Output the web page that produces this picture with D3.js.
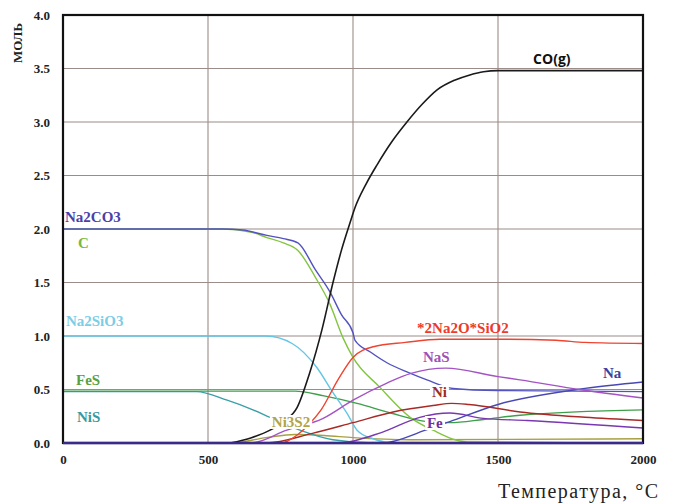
<!DOCTYPE html>
<html><head><meta charset="utf-8">
<script src="https://cdn.jsdelivr.net/npm/d3@7/dist/d3.min.js"></script>
<style>body{margin:0;background:#fff}svg{display:block}</style>
</head><body><svg id="c" width="676" height="504"></svg>
<script>
// ---- data (temperature °C, amount mol) ----
const xTicks = [0, 500, 1000, 1500, 2000];
const yTicks = [0, 0.5, 1.0, 1.5, 2.0, 2.5, 3.0, 3.5, 4.0];
const coG = [[576,0],[650,0.05],[714,0.12],[760,0.2],[807,0.33],[850,0.65],[893,1.06],[931,1.5],[960,1.8],[990,2.06],[1007,2.2],[1045,2.42],[1083,2.6],[1135,2.82],[1186,3.0],[1240,3.17],[1290,3.3],[1350,3.39],[1403,3.44],[1450,3.47],[1500,3.48],[2000,3.48]];
const na2co3 = [[0,2.0],[550,2.0],[620,1.99],[703,1.94],[760,1.91],[810,1.87],[870,1.62],[921,1.41],[960,1.2],[1000,1.03],[1007,0.96],[1060,0.85],[1117,0.75],[1190,0.66],[1255,0.59],[1345,0.51],[1500,0.49],[2000,0.48]];
const cSolid = [[0,2.0],[550,2.0],[650,1.97],[703,1.92],[760,1.87],[810,1.80],[870,1.55],[920,1.30],[966,0.98],[1000,0.80],[1093,0.52],[1197,0.24],[1276,0.12],[1393,0.01],[2000,0]];
const na2sio3 = [[0,1.0],[700,1.0],[790,0.93],[874,0.71],[931,0.47],[979,0.28],[1014,0.12],[1069,0.04],[1150,0],[2000,0]];
const feS = [[0,0.485],[800,0.485],[900,0.44],[1014,0.37],[1130,0.28],[1255,0.2],[1334,0.19],[1450,0.22],[1576,0.26],[2000,0.31]];
const niS = [[0,0.48],[460,0.48],[566,0.40],[655,0.31],[714,0.24],[817,0.12],[931,0.03],[1069,0.0],[2000,0]];
const na2oSiO2 = [[0,0],[750,0],[810,0.08],[850,0.18],[890,0.31],[950,0.6],[1000,0.80],[1070,0.90],[1180,0.94],[1300,0.97],[1500,0.97],[1700,0.96],[1800,0.94],[2000,0.93]];
const naS = [[0,0],[645,0],[772,0.12],[897,0.23],[1000,0.40],[1117,0.56],[1200,0.65],[1320,0.70],[1500,0.62],[1576,0.59],[1780,0.50],[2000,0.42]];
const ni = [[0,0],[700,0],[860,0.09],[1000,0.19],[1138,0.29],[1276,0.35],[1340,0.37],[1400,0.36],[1576,0.29],[1800,0.24],[2000,0.21]];
const fe = [[0,0],[950,0],[1100,0.1],[1230,0.24],[1334,0.28],[1450,0.23],[1600,0.21],[2000,0.14]];
const naG = [[0,0],[1100,0],[1250,0.12],[1334,0.2],[1500,0.36],[1800,0.51],[2000,0.57]];
const ni3s2 = [[0,0],[580,0],[700,0.05],[800,0.08],[900,0.07],[1000,0.05],[1200,0.03],[2000,0.04]];

const series = [
  {name:"Ni3S2", data:ni3s2, color:"#a8a040"},
  {name:"NiS", data:niS, color:"#3aa0a8"},
  {name:"FeS", data:feS, color:"#3e9e4a"},
  {name:"Na2SiO3", data:na2sio3, color:"#62c6e6"},
  {name:"C", data:cSolid, color:"#84c440"},
  {name:"Na2CO3", data:na2co3, color:"#5252c0"},
  {name:"Fe", data:fe, color:"#7a38b0"},
  {name:"Na", data:naG, color:"#4848b4"},
  {name:"Ni", data:ni, color:"#a82a26"},
  {name:"NaS", data:naS, color:"#a452c4"},
  {name:"2Na2O*SiO2", data:na2oSiO2, color:"#ee4430"},
  {name:"CO(g)", data:coG, color:"#1a1a1a"}
];

const labels = [
  {t:"Na2CO3", T:7, v:2.07, color:"#4a40a8", bg:false},
  {t:"C", T:52, v:1.82, color:"#78b83a", bg:false},
  {t:"Na2SiO3", T:10, v:1.09, color:"#7ccde6", bg:false},
  {t:"FeS", T:45, v:0.54, color:"#5aa040", bg:false},
  {t:"NiS", T:48, v:0.2, color:"#3a98a0", bg:false},
  {t:"Ni3S2", T:720, v:0.15, color:"#b0a44a", bg:true},
  {t:"*2Na2O*SiO2", T:1221, v:1.03, color:"#ee3a2a", bg:false},
  {t:"NaS", T:1241, v:0.76, color:"#a050b4", bg:false},
  {t:"Ni", T:1272, v:0.43, color:"#a02a26", bg:true},
  {t:"Fe", T:1255, v:0.14, color:"#7030a0", bg:true},
  {t:"Na", T:1862, v:0.61, color:"#40409a", bg:false}
];

// ---- chart ----
const svg = d3.select("#c");
const m = {l:63, r:643, t:15, b:443};
const x = d3.scaleLinear().domain([0,2000]).range([m.l, m.r]);
const y = d3.scaleLinear().domain([0,4]).range([m.b, m.t]);
const serif = "'Liberation Serif', 'Times New Roman', serif";

// grid
svg.append("g").selectAll("line").data(yTicks.slice(1,-1)).join("line")
  .attr("x1", m.l).attr("x2", m.r).attr("y1", d=>y(d)).attr("y2", d=>y(d))
  .attr("stroke", "#9c8c88").attr("stroke-width", 1.1);
svg.append("g").selectAll("line").data(xTicks.slice(1,-1)).join("line")
  .attr("y1", m.t).attr("y2", m.b).attr("x1", d=>x(d)).attr("x2", d=>x(d))
  .attr("stroke", "#9c8c88").attr("stroke-width", 1.1);

// lines
const line = d3.line().x(d=>x(d[0])).y(d=>y(d[1])).curve(d3.curveMonotoneX);
svg.append("g").selectAll("path").data(series).join("path")
  .attr("d", d=>line(d.data)).attr("fill","none")
  .attr("stroke", d=>d.color).attr("stroke-width", d=>d.name==="CO(g)"?1.6:1.4);

// frame
svg.append("rect").attr("x", m.l).attr("y", m.t).attr("width", m.r-m.l).attr("height", m.b-m.t)
  .attr("fill","none").attr("stroke","#111").attr("stroke-width",2.2);
svg.append("line").attr("x1",m.l).attr("x2",m.r).attr("y1",m.b).attr("y2",m.b)
  .attr("stroke","#3a2a8a").attr("stroke-width",2.5);

// axes
const yAxis = d3.axisLeft(y).tickValues(yTicks).tickFormat(d3.format(".1f")).tickSize(0).tickPadding(13);
const gy = svg.append("g").attr("transform",`translate(${m.l},0)`).call(yAxis);
const xAxis = d3.axisBottom(x).tickValues(xTicks).tickFormat(d3.format("d")).tickSize(0).tickPadding(12);
const gx = svg.append("g").attr("transform",`translate(0,${m.b})`).call(xAxis);
[gy, gx].forEach(g=>{
  g.select(".domain").remove();
  g.selectAll("text").attr("font-family",serif).attr("font-weight","bold")
    .attr("font-size",13).attr("fill","#222");
});

svg.append("text").attr("transform","translate(22,43) rotate(-90)").attr("text-anchor","middle")
  .attr("font-family",serif).attr("font-weight","bold").attr("font-size",13)
  .attr("fill","#222").text("МОЛЬ");
svg.append("text").attr("x",498).attr("y",498)
  .attr("font-family",serif).attr("font-size",20).attr("fill","#222")
  .attr("textLength",160).attr("lengthAdjust","spacing")
  .text("Температура, °C");

// labels
const lg = svg.append("g");
labels.forEach(l=>{
  const t = lg.append("text").attr("x", x(l.T)).attr("y", y(l.v))
    .attr("font-family",serif).attr("font-weight","bold")
    .attr("font-size", 15).attr("fill", l.color).text(l.t);
  if (l.bg) {
    const b = t.node().getBBox();
    lg.insert("rect", () => t.node()).attr("x", b.x-2).attr("y", b.y+1).attr("width", b.width+4).attr("height", b.height-2).attr("fill","#fff");
  }
});
svg.append("text").attr("x", x(1621)).attr("y", y(3.54))
  .attr("font-family","'Open Sans', sans-serif").attr("font-weight","bold").attr("font-size",14)
  .attr("fill","#111").text("CO(g)");
</script></body></html>
